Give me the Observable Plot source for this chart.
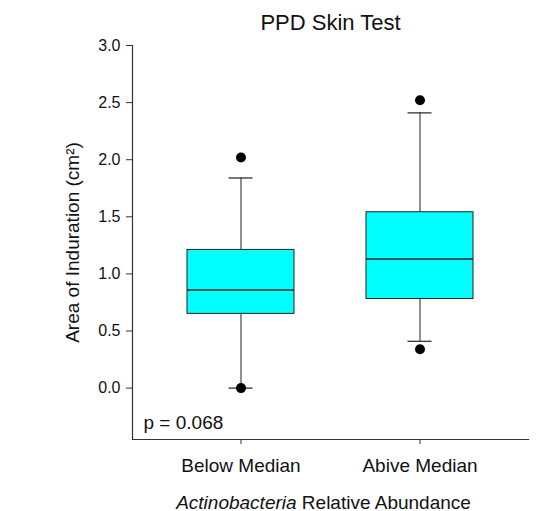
<!DOCTYPE html>
<html>
<head>
<meta charset="utf-8">
<script src="https://cdn.jsdelivr.net/npm/d3@7"></script>
<script src="https://cdn.jsdelivr.net/npm/@observablehq/plot@0.6"></script>
<style>
  html, body { margin: 0; padding: 0; background: #fff; }
  #chart { width: 542px; height: 511px; }
</style>
</head>
<body>
<div id="chart"></div>
<script>
// Box-plot summaries for PPD induration by Actinobacteria abundance group
const categories = ["Below Median", "Abive Median"];
const q1 = [0.65, 0.78];
const medians = [0.86, 1.13];
const q3 = [1.21, 1.54];
const whiskerLow = [0.0, 0.41];
const whiskerHigh = [1.84, 2.41];
const outlierValues = [[2.02, 0.0], [2.52, 0.34]];
const yTicks = [0, 0.5, 1.0, 1.5, 2.0, 2.5, 3.0];
const yDomain = [-0.45, 3.0];

const title = "PPD Skin Test";
const yTitle = "Area of Induration (cm²)";
const xTitle = "Actinobacteria Relative Abundance";
const xTitleItalic = "Actinobacteria";
const pValue = "p = 0.068";

const boxes = categories.map((c, i) => ({
  category: c, q1: q1[i], median: medians[i], q3: q3[i],
  low: whiskerLow[i], high: whiskerHigh[i]
}));
const outliers = categories.flatMap((c, i) =>
  outlierValues[i].map(v => ({category: c, value: v})));

const font = "'Liberation Sans', Arial, sans-serif";
const capInset = 41.5;

const chart = Plot.plot({
  width: 542,
  height: 511,
  marginLeft: 132,
  marginRight: 14,
  marginTop: 45,
  marginBottom: 72,
  style: {fontFamily: font, color: "#111", background: "#fff"},
  x: {type: "band", domain: categories, paddingInner: 0.4, paddingOuter: 0.3},
  y: {domain: yDomain},
  marks: [
    // whiskers
    Plot.ruleX(boxes, {x: "category", y1: "low", y2: "q1", stroke: "#222", strokeWidth: 1}),
    Plot.ruleX(boxes, {x: "category", y1: "q3", y2: "high", stroke: "#222", strokeWidth: 1}),
    // whisker caps
    Plot.tickY(boxes, {x: "category", y: "low", stroke: "#222", strokeWidth: 1.2, insetLeft: capInset, insetRight: capInset}),
    Plot.tickY(boxes, {x: "category", y: "high", stroke: "#222", strokeWidth: 1.2, insetLeft: capInset, insetRight: capInset}),
    // interquartile boxes
    Plot.barY(boxes, {x: "category", y1: "q1", y2: "q3", fill: "#00FFFF", stroke: "#222", strokeWidth: 1}),
    // medians
    Plot.tickY(boxes, {x: "category", y: "median", stroke: "#222", strokeWidth: 1.5}),
    // outliers
    Plot.dot(outliers, {x: "category", y: "value", r: 5, fill: "#000", stroke: "none"}),
    // axis lines (left and bottom only)
    Plot.frame({anchor: "left", stroke: "#333", strokeWidth: 1.2}),
    Plot.frame({anchor: "bottom", stroke: "#333", strokeWidth: 1.2}),
    Plot.axisY({ticks: yTicks, tickFormat: d3.format(".1f"), tickSize: 6, tickPadding: 6,
      fontSize: 16, stroke: "#333", label: null}),
    Plot.axisX({tickSize: 5, tickPadding: 14, fontSize: 19, stroke: "#333", label: null}),
    // titles and annotation
    Plot.text([title], {frameAnchor: "top", lineAnchor: "bottom", dy: -16, fontSize: 22, fill: "#111"}),
    Plot.text([yTitle], {frameAnchor: "left", textAnchor: "middle", rotate: -90, dx: -60, fontSize: 19, fill: "#111"}),
    Plot.text([xTitle], {frameAnchor: "bottom", lineAnchor: "bottom", dy: 69, dx: -7, fontSize: 19, fill: "#111"}),
    Plot.text([pValue], {frameAnchor: "bottom-left", lineAnchor: "bottom", textAnchor: "start", dx: 11, dy: -11, fontSize: 19, fill: "#111"})
  ]
});

// Set the genus name in italics within the x-axis title
d3.select(chart).selectAll("text")
  .filter(function () { return this.textContent === xTitle; })
  .each(function () {
    const t = d3.select(this);
    t.text(null);
    t.append("tspan").attr("font-style", "italic").text(xTitleItalic);
    t.append("tspan").text(xTitle.slice(xTitleItalic.length));
  });

document.getElementById("chart").append(chart);
</script>
</body>
</html>
